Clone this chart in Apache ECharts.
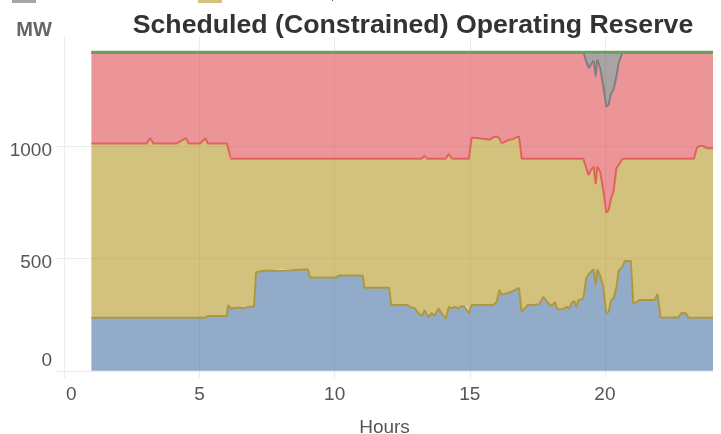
<!DOCTYPE html>
<html><head><meta charset="utf-8">
<script src="https://cdn.jsdelivr.net/npm/echarts@6/dist/echarts.min.js"></script>
<style>html,body{margin:0;padding:0;background:#fff}#c{width:721px;height:434px}</style>
</head><body><div id="c"></div>
<script>
const hours = [1.00,3.05,3.17,3.29,4.16,4.50,4.59,5.02,5.22,5.30,
6.01,6.06,6.16,6.20,6.32,6.62,6.69,7.02,7.09,7.35,
8.05,8.09,9.01,9.09,10.08,10.14,11.04,11.10,12.02,12.09,
12.69,12.79,12.97,13.10,13.22,13.33,13.41,13.47,13.59,13.69,
13.84,13.96,14.11,14.23,14.33,14.45,14.58,14.70,14.82,14.89,
14.97,15.07,15.32,15.75,15.87,15.93,16.00,16.09,16.18,16.22,
16.37,16.47,16.61,16.67,16.82,16.92,17.04,17.14,17.35,17.57,
17.72,17.91,18.03,18.15,18.24,18.45,18.59,18.68,18.77,18.87,
18.93,19.02,19.20,19.31,19.40,19.48,19.58,19.66,19.72,19.82,
19.94,20.05,20.14,20.23,20.32,20.43,20.51,20.64,20.74,20.96,
21.05,21.18,21.27,21.83,21.95,22.06,22.72,22.84,23.00,23.09,
23.30,23.40,23.49,23.64,23.77,24.00];

const regulation = [236,236,236,236,236,236,236,236,236,244,
244,293,276,274,281,281,288,288,438,446,
446,452,452,416,416,425,425,370,370,293,
293,285,278,256,244,270,252,238,258,245,
278,256,233,285,278,285,278,288,285,290,
256,293,293,293,293,300,307,360,340,337,
345,349,356,362,370,263,278,293,293,296,
330,300,288,307,274,275,285,278,303,311,
283,315,320,412,430,440,452,382,452,426,
374,256,263,315,323,374,446,463,489,489,
300,307,315,315,342,238,238,258,256,236,
236,236,236,236,236,236];

const online = [777,777,800,777,777,800,777,777,800,769,
769,697,669,671,664,664,657,657,507,499,
499,493,493,529,529,520,520,575,575,652,
652,660,667,689,701,688,693,707,687,700,
667,689,712,681,668,660,667,657,660,655,
689,745,743,736,747,744,737,676,673,679,
679,680,677,675,674,682,667,652,652,649,
615,645,657,638,671,670,660,667,642,634,
662,630,625,490,442,454,457,450,457,461,
431,448,453,453,475,528,471,479,456,456,
645,638,630,630,603,707,707,687,689,709,
709,755,765,765,755,755];

const nonSpin = [404,404,381,404,404,381,404,404,381,404,
404,427,472,472,472,472,472,472,472,472,
472,472,472,472,472,472,472,472,472,472,
472,472,472,472,472,459,472,472,472,472,
472,472,472,451,471,472,472,472,472,472,
472,379,381,388,377,373,373,381,404,401,
393,388,384,380,373,472,472,472,472,472,
472,472,472,472,472,472,472,472,472,472,
472,472,472,475,476,468,472,478,476,461,
461,472,468,468,453,408,453,472,472,472,
472,472,472,472,472,472,472,472,472,472,
472,426,416,416,426,426];

const shortfall = [0,0,0,0,0,0,0,0,0,0,
0,0,0,0,0,0,0,0,0,0,
0,0,0,0,0,0,0,0,0,0,
0,0,0,0,0,0,0,0,0,0,
0,0,0,0,0,0,0,0,0,0,
0,0,0,0,0,0,0,0,0,0,
0,0,0,0,0,0,0,0,0,0,
0,0,0,0,0,0,0,0,0,0,
0,0,0,40,69,55,36,107,32,69,
151,241,233,181,166,107,47,3,0,0,
0,0,0,0,0,0,0,0,0,0,
0,0,0,0,0,0];

const other = [4,4,4,4,4,4,4,4,4,4,
4,4,4,4,4,4,4,4,4,4,
4,4,4,4,4,4,4,4,4,4,
4,4,4,4,4,4,4,4,4,4,
4,4,4,4,4,4,4,4,4,4,
4,4,4,4,4,4,4,4,4,4,
4,4,4,4,4,4,4,4,4,4,
4,4,4,4,4,4,4,4,4,4,
4,4,4,4,4,4,4,4,4,4,
4,4,4,4,4,4,4,4,4,4,
4,4,4,4,4,4,4,4,4,4,
4,4,4,4,4,4];

const FONT = '"Liberation Sans", Arial, sans-serif';
const chart = echarts.init(document.getElementById('c'));

function mk(name, vals, solid, fill, line, z) {
  return {
    name: name, type: 'line', stack: 'total', showSymbol: false, symbol: 'none',
    // value first so that the stacked dimension is the MW value; hour mapped to x
    data: hours.map((h, i) => [vals[i], h]),
    encode: { x: 1, y: 0 },
    itemStyle: { color: solid },
    lineStyle: { color: line, width: 2 },
    areaStyle: { color: fill, opacity: 1 },
    z: z
  };
}

const legendCommon = { padding: 0, icon: 'rect', itemWidth: 24, itemHeight: 16,
  textStyle: { fontFamily: FONT, fontSize: 15, color: '#444' }, itemStyle: { borderWidth: 0 } };

chart.setOption({
  animation: false,
  backgroundColor: '#fff',
  title: {
    text: 'Scheduled (Constrained) Operating Reserve',
    left: 413, top: 12, textAlign: 'center', padding: 0,
    textStyle: { fontFamily: FONT, fontSize: 26.7, fontWeight: 'bold', color: '#333' }
  },
  legend: [
    Object.assign({ data: ['Shortfall'], left: 12, top: -13 }, legendCommon),
    Object.assign({ data: ['Online Reserve, Fast Start'], left: 198, top: -13 }, legendCommon),
    Object.assign({ data: ['Regulation', 'Non-Spinning Reserve', 'Other'], left: 12, top: -60 }, legendCommon)
  ],
  graphic: [{
    type: 'text', x: 34, y: 30,
    style: { text: 'MW', align: 'center', verticalAlign: 'middle', fontFamily: FONT, fontSize: 20, fontWeight: 'bold', fill: '#666' }
  }],
  grid: { left: 56, right: 8, top: 37, bottom: 56, containLabel: false, outerBoundsMode: 'none' },
  xAxis: {
    type: 'value', min: -0.31, max: 24, splitNumber: 5,
    axisLine: { show: false }, axisTick: { show: false },
    axisLabel: {
      margin: 7, color: '#555', fontFamily: FONT, fontSize: 19,
      showMinLabel: false, showMaxLabel: false,
      formatter: v => v === 0 ? '{z|0}' : String(v),
      rich: { z: { padding: [0, 0, 0, 14], fontFamily: FONT, fontSize: 19, color: '#555' } }
    },
    splitLine: { show: true, showMinLine: false, showMaxLine: false, lineStyle: { color: '#ececec', width: 1 } },
    name: 'Hours', nameLocation: 'middle', nameGap: 40,
    nameTextStyle: { fontFamily: FONT, fontSize: 19, color: '#555' }
  },
  yAxis: {
    type: 'value', min: -32, max: 1487, splitNumber: 3,
    axisLine: { show: false }, axisTick: { show: false },
    axisLabel: {
      margin: 4, color: '#555', fontFamily: FONT, fontSize: 19,
      showMinLabel: false, showMaxLabel: false,
      formatter: v => v === 0 ? '{z|0}' : '{n|' + v + '}',
      rich: {
        z: { padding: [0, 0, 20, 0], fontFamily: FONT, fontSize: 19, color: '#555' },
        n: { padding: [8, 0, 0, 0], fontFamily: FONT, fontSize: 19, color: '#555' }
      }
    },
    splitLine: { show: true, showMinLine: false, showMaxLine: false, lineStyle: { color: '#ececec', width: 1 } }
  },
  series: [
    mk('Regulation', regulation, '#92abc8', 'rgba(73,115,163,0.6)', '#a89a4c', 2),
    mk('Online Reserve, Fast Start', online, '#d3c17e', 'rgba(182,152,40,0.6)', '#e06e64', 3),
    mk('Non-Spinning Reserve', nonSpin, '#ec9598', 'rgba(223,78,83,0.6)', '#8e8888', 4),
    mk('Shortfall', shortfall, '#a9a4a3', 'rgba(112,103,102,0.6)', '#6e9d62', 5),
    mk('Other', other, '#a0c898', 'rgba(97,163,80,0.6)', '#6e9d62', 6)
  ]
});
</script></body></html>
